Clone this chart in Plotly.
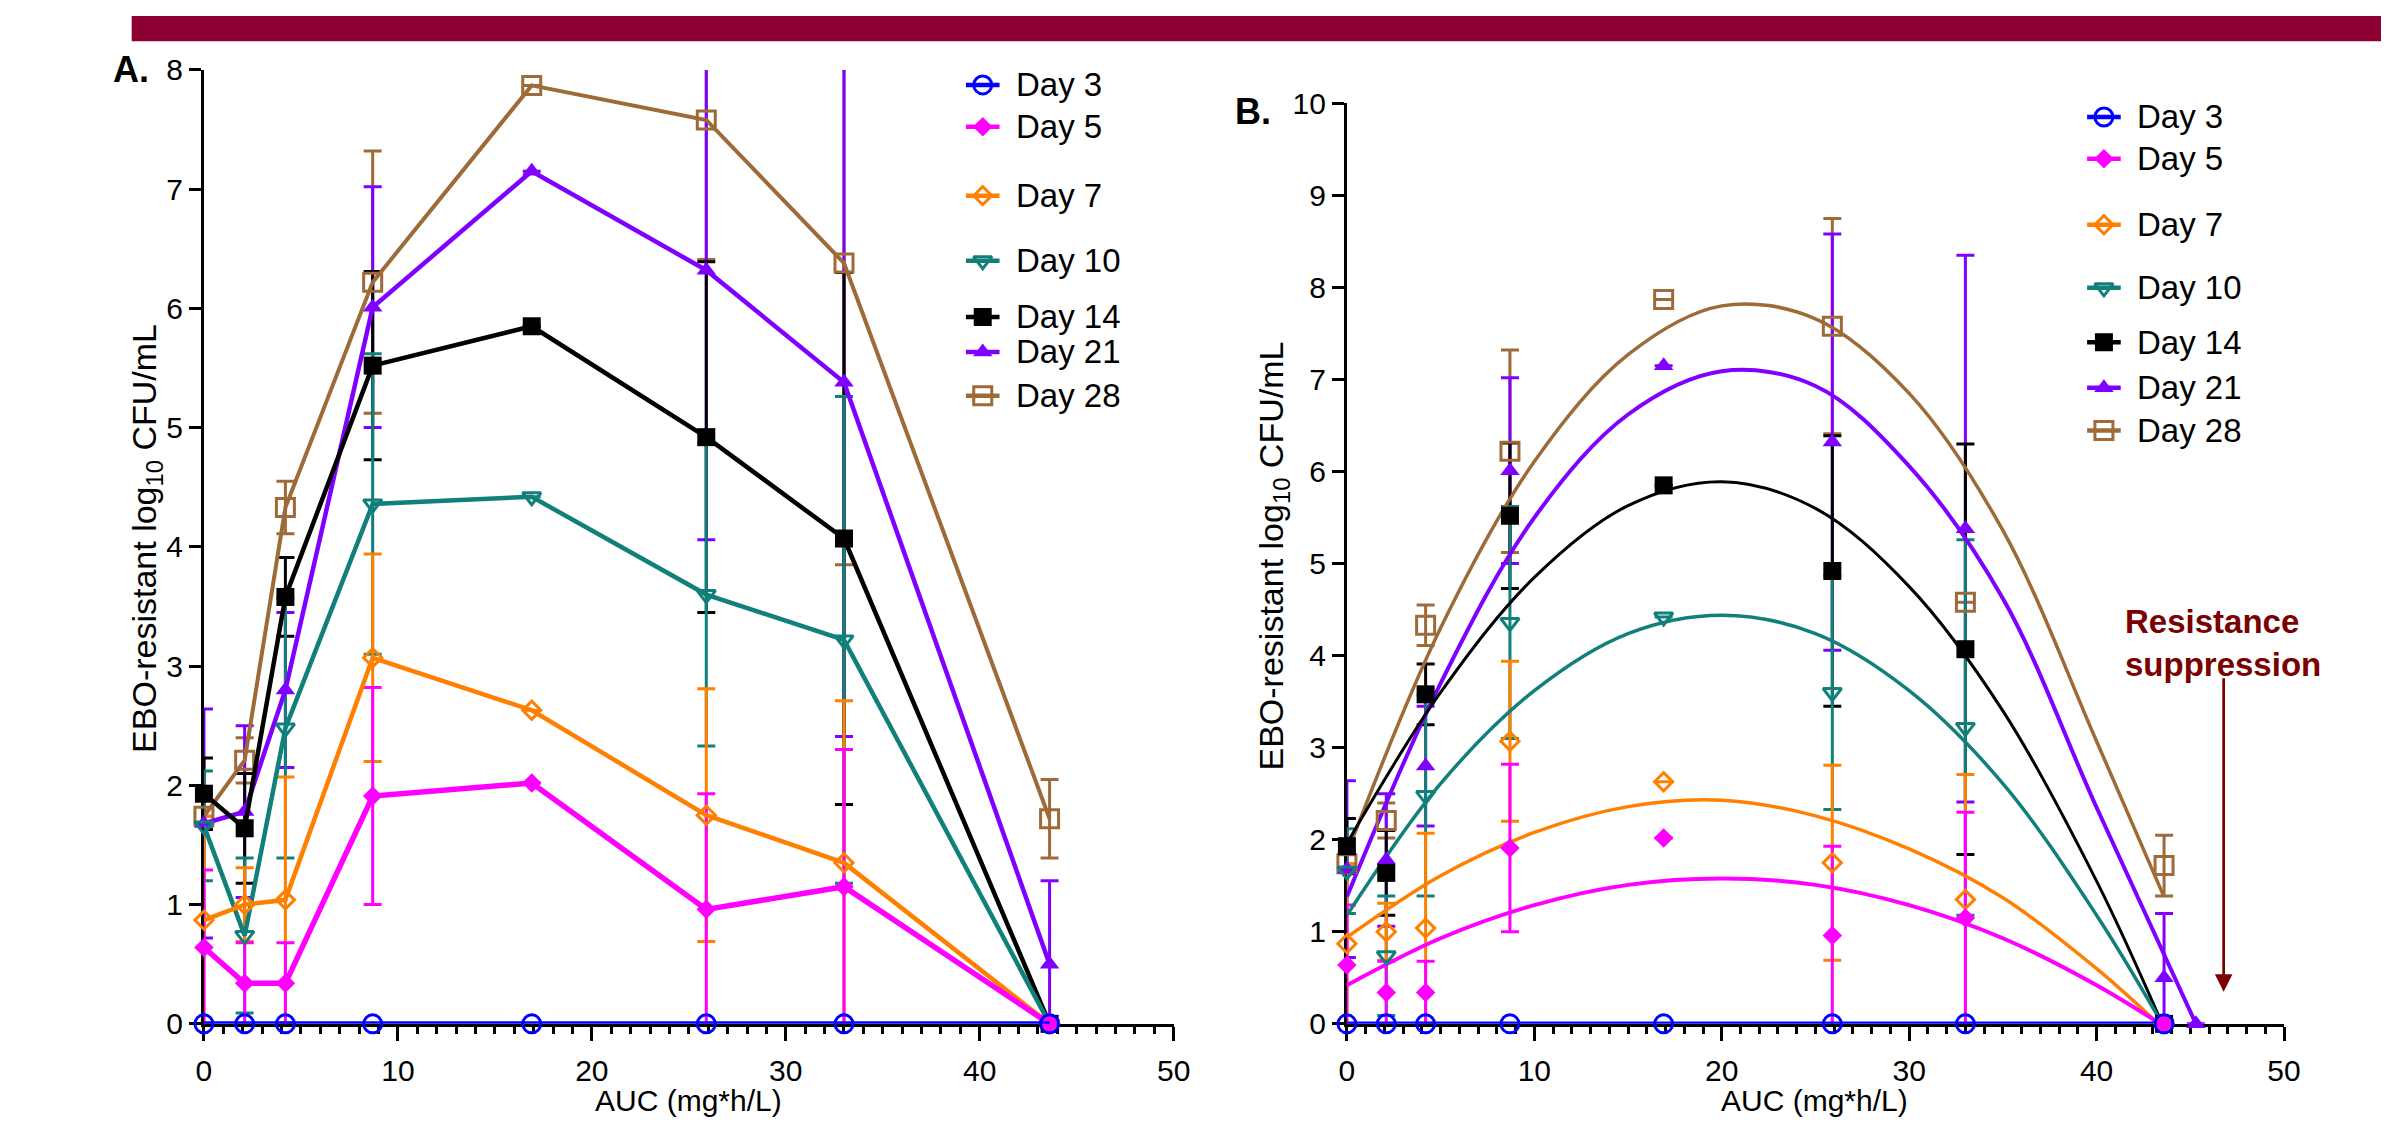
import plotly.graph_objects as go

W, H = 2398, 1136

# ---------------- data ----------------
auc = [0, 2.1, 4.2, 8.7, 16.9, 25.9, 33.0, 43.6]
day_names = ["Day 3", "Day 5", "Day 7", "Day 10", "Day 14", "Day 21", "Day 28"]

day3 = [0, 0, 0, 0, 0, 0, 0, 0]
day5 = [0.64, 0.34, 0.34, 1.91, 2.02, 0.96, 1.15, 0]
day7 = [0.87, 1.00, 1.04, 3.07, 2.63, 1.75, 1.35, 0]
day10 = [1.66, 0.74, 2.48, 4.36, 4.42, 3.60, 3.22, 0]
day14 = [1.93, 1.64, 3.58, 5.52, 5.85, 4.92, 4.07, 0]
day21 = [1.68, 1.78, 2.80, 6.01, 7.15, 6.32, 5.38, 0.50]
day28_a = [1.74, 2.21, 4.33, 6.22, 7.87, 7.58, 6.38, 1.72]
day28_b = [1.74, 2.21, 4.33, 6.22, 7.87, 7.58, 4.58, 1.72]

sd3 = [0, 0, 0, 0, 0, 0, 0, 0]
sd5 = [0.65, 0.34, 0.34, 0.91, 0, 0.97, 1.15, 0]
sd7 = [0.87, 0.31, 1.03, 0.87, 0, 1.06, 1.36, 0]
sd10 = [0.46, 0.65, 1.09, 1.26, 0, 1.27, 2.04, 0]
sd14 = [0.30, 0.46, 0.33, 0.79, 0, 1.47, 2.23, 0]
sd21 = [0.96, 0.72, 0.65, 1.01, 0, 2.26, 2.97, 0.70]
sd28_a = [0, 0.19, 0.22, 1.10, 0, 1.17, 2.53, 0.33]
sd28_b = [0, 0.19, 0.22, 1.10, 0, 1.17, 0, 0.33]

# extra Day 21 point shown only in panel B
day21_extra_auc = [45.3]
day21_extra = [0]

# fitted curves of panel B
fit3_x = [0, 43.6]
fit3_y = [0, 0]
fit5_x = [0, 5, 10, 15, 20, 25, 30, 35, 40, 43.4]
fit5_y = [0.42, 0.93, 1.29, 1.51, 1.58, 1.51, 1.29, 0.93, 0.42, 0]
fit7_x = [0, 5, 10, 15, 20, 25, 30, 35, 40, 43.3]
fit7_y = [0.94, 1.61, 2.08, 2.36, 2.43, 2.26, 1.90, 1.37, 0.60, 0]
fit10_x = [0, 5, 10, 15, 20, 25, 30, 35, 40, 43.5]
fit10_y = [1.18, 2.61, 3.62, 4.24, 4.44, 4.24, 3.62, 2.61, 1.18, 0]
fit14_x = [0, 5, 10, 15, 20, 25, 30, 35, 40, 43.5]
fit14_y = [1.96, 3.60, 4.85, 5.63, 5.89, 5.60, 4.75, 3.40, 1.55, 0]
fit21_x = [0, 5, 10, 15, 20, 25, 30, 35, 40, 45.3]
fit21_y = [1.38, 3.70, 5.50, 6.62, 7.09, 6.93, 6.06, 4.62, 2.35, 0]
fit28_x = [0, 5, 10, 15, 20, 25, 30, 35, 40, 43.6]
fit28_y = [1.85, 4.30, 6.11, 7.27, 7.80, 7.66, 6.85, 5.36, 3.07, 1.38]

x_ticks = [0, 10, 20, 30, 40, 50]

# ---------------- styles ----------------
colors = {"Day 3": "#0000FF", "Day 5": "#FF00FF", "Day 7": "#FF8000",
          "Day 10": "#12807A", "Day 14": "#000000", "Day 21": "#8000FF",
          "Day 28": "#9E6A38"}
symbols = {"Day 3": "circle-open", "Day 5": "diamond", "Day 7": "diamond-open",
           "Day 10": "triangle-down-open", "Day 14": "square",
           "Day 21": "triangle-up", "Day 28": "square-open"}
msize = {"Day 3": 18, "Day 5": 15, "Day 7": 14, "Day 10": 16,
         "Day 14": 18, "Day 21": 17, "Day 28": 18}
lw_a = {"Day 3": 5, "Day 5": 5.5, "Day 7": 4.5, "Day 10": 4.5, "Day 14": 4.5,
        "Day 21": 4.5, "Day 28": 4}
lw_b = {"Day 3": 4.5, "Day 5": 4, "Day 7": 3.5, "Day 10": 3.5, "Day 14": 3,
        "Day 21": 4, "Day 28": 3.5}

FONT = "Liberation Sans, Arial, sans-serif"

series_a = {"Day 3": (day3, sd3), "Day 5": (day5, sd5), "Day 7": (day7, sd7),
            "Day 10": (day10, sd10), "Day 14": (day14, sd14),
            "Day 21": (day21, sd21), "Day 28": (day28_a, sd28_a)}
series_b = {"Day 3": (auc, day3, sd3), "Day 5": (auc, day5, sd5),
            "Day 7": (auc, day7, sd7), "Day 10": (auc, day10, sd10),
            "Day 14": (auc, day14, sd14),
            "Day 21": (auc + day21_extra_auc, day21 + day21_extra, sd21 + [0]),
            "Day 28": (auc, day28_b, sd28_b)}
fits = {"Day 3": (fit3_x, fit3_y), "Day 5": (fit5_x, fit5_y),
        "Day 7": (fit7_x, fit7_y), "Day 10": (fit10_x, fit10_y),
        "Day 14": (fit14_x, fit14_y), "Day 21": (fit21_x, fit21_y),
        "Day 28": (fit28_x, fit28_y)}


def marker(name):
    c = colors[name]
    is_open = symbols[name].endswith("open")
    return dict(symbol=symbols[name], size=msize[name], color=c,
                line=dict(color=c, width=3 if is_open else 0))


def err_trace(x, y, sd, name, xa, ya):
    arr = [e if e > 0 else None for e in sd]
    return go.Scatter(x=x, y=y, mode="markers", xaxis=xa, yaxis=ya,
                      marker=dict(size=1, opacity=0), showlegend=False,
                      hoverinfo="skip", cliponaxis=True,
                      error_y=dict(type="data", array=arr, symmetric=True,
                                   color=colors[name], thickness=3, width=9))


fig = go.Figure()
order = ["Day 28", "Day 21", "Day 14", "Day 10", "Day 7", "Day 5", "Day 3"]

# ---- panel A ----
for n in order:
    y, sd = series_a[n]
    if any(e > 0 for e in sd):
        fig.add_trace(err_trace(auc, y, sd, n, "x", "y"))
for n in order:
    y, sd = series_a[n]
    fig.add_trace(go.Scatter(x=auc, y=y, mode="lines+markers", name=n,
                             xaxis="x", yaxis="y", showlegend=False,
                             line=dict(color=colors[n], width=lw_a[n]),
                             marker=marker(n), cliponaxis=False))

# ---- panel B ----
for n in order:
    x, y, sd = series_b[n]
    if any(e > 0 for e in sd):
        fig.add_trace(err_trace(x, y, sd, n, "x2", "y2"))
for n in order:
    fx, fy = fits[n]
    fig.add_trace(go.Scatter(x=fx, y=fy, mode="lines", xaxis="x2", yaxis="y2",
                             showlegend=False, hoverinfo="skip",
                             line=dict(color=colors[n], width=lw_b[n],
                                       shape="spline", smoothing=1.0),
                             cliponaxis=False))
for n in order:
    x, y, sd = series_b[n]
    fig.add_trace(go.Scatter(x=x, y=y, mode="markers", name=n,
                             xaxis="x2", yaxis="y2", showlegend=False,
                             marker=marker(n), cliponaxis=False))

# ---- hand-drawn legends (pixel overlay axis) ----
leg_a_y = [71, 114, 185, 252, 310, 346, 391]
leg_b_y = [104, 147, 215, 280, 336, 383, 427]
leg_a_x = (968, 985, 1002, 1017)
leg_b_x = (2101, 2118, 2135, 2149)
annotations = []
for i, n in enumerate(day_names):
    ya, yb = leg_a_y[i], leg_b_y[i]
    fig.add_trace(go.Scatter(
        x=[leg_a_x[0], leg_a_x[2], None, leg_b_x[0], leg_b_x[2]],
        y=[ya, ya, None, yb, yb], mode="lines", xaxis="x3", yaxis="y3",
        showlegend=False, hoverinfo="skip", cliponaxis=False,
        line=dict(color=colors[n], width=4.5)))
    fig.add_trace(go.Scatter(
        x=[leg_a_x[1], leg_b_x[1]], y=[ya, yb], mode="markers",
        xaxis="x3", yaxis="y3", showlegend=False, hoverinfo="skip",
        cliponaxis=False, marker=marker(n)))
    for (xx, yy) in ((leg_a_x[3], ya), (leg_b_x[3], yb)):
        annotations.append(dict(text=n, xref="paper", yref="paper",
                                x=xx / W, y=1 - yy / H, xanchor="left",
                                yanchor="middle", showarrow=False,
                                font=dict(family=FONT, size=33, color="black")))

# ---- texts ----
def ann(text, px, py, size, xanchor="center", bold=False, angle=0,
        color="black", align="center"):
    return dict(text=f"<b>{text}</b>" if bold else text, xref="paper",
                yref="paper", x=px / W, y=1 - py / H, xanchor=xanchor,
                yanchor="middle", showarrow=False, textangle=angle,
                align=align, font=dict(family=FONT, size=size, color=color))

annotations += [
    ann("A.", 104, 55, 36, xanchor="left", bold=True),
    ann("B.", 1238, 98, 36, xanchor="left", bold=True),
    ann("EBO-resistant log<sub>10</sub> CFU/mL", 140, 538, 34, angle=-90),
    ann("EBO-resistant log<sub>10</sub> CFU/mL", 1279, 556, 34, angle=-90),
    ann("AUC (mg*h/L)", 688, 1117, 30),
    ann("AUC (mg*h/L)", 1826, 1117, 30),
    ann("Resistance<br>suppression", 2137, 646, 33, xanchor="left",
        bold=True, color="#7B0000", align="left"),
    dict(text="", xref="paper", yref="paper", x=2239 / W, y=1 - 1005 / H,
         showarrow=True, ax=0, ay=-315, arrowhead=2, arrowsize=1.3,
         arrowwidth=2.7, arrowcolor="#7B0000", standoff=0),
]

axis_common = dict(showline=True, linecolor="black", linewidth=3,
                   ticks="outside", tickcolor="black", tickwidth=3,
                   showgrid=False, zeroline=False, layer="below traces",
                   tickfont=dict(family=FONT, size=30, color="black"),
                   fixedrange=True)
xax = dict(axis_common, range=[0, 50], tickvals=x_ticks, ticklen=14,
           minor=dict(dtick=1, tick0=0, ticklen=7, tickwidth=3,
                      tickcolor="black", ticks="outside"),
           ticklabelstandoff=4)
yax = dict(axis_common, dtick=1, tick0=0, ticklen=12)

y0 = 1 - 1038 / H
fig.update_layout(
    autosize=True, margin=dict(l=0, r=0, t=0, b=0),
    paper_bgcolor="white", plot_bgcolor="rgba(0,0,0,0)", showlegend=False,
    hovermode=False,
    xaxis=dict(xax, domain=[198 / W, 1178 / W], anchor="y"),
    yaxis=dict(yax, range=[0, 8], domain=[y0, 1 - 55.5 / H], anchor="x"),
    xaxis2=dict(xax, domain=[1353 / W, 2300 / W], anchor="y2"),
    yaxis2=dict(yax, range=[0, 10], domain=[y0, 1 - 90 / H], anchor="x2"),
    xaxis3=dict(domain=[0, 1], range=[0, W], visible=False, anchor="y3",
                fixedrange=True),
    yaxis3=dict(domain=[0, 1], range=[H, 0], visible=False, anchor="x3",
                fixedrange=True),
    annotations=annotations,
    shapes=[dict(type="rect", xref="paper", yref="paper", x0=125 / W, x1=1,
                 y0=1 - 26 / H, y1=1, fillcolor="#8E0033",
                 line=dict(width=0), layer="above")],
)

# the graph div is pinned to the top-left corner at exactly the window size
fig.write_html(
    "out.html",
    config={"displayModeBar": False},
    default_width=f"{W}px; position:absolute; left:0; top:0",
    default_height=f"{H}px",
    post_script="document.body.style.margin='0';"
                "document.body.style.overflow='hidden';",
)
